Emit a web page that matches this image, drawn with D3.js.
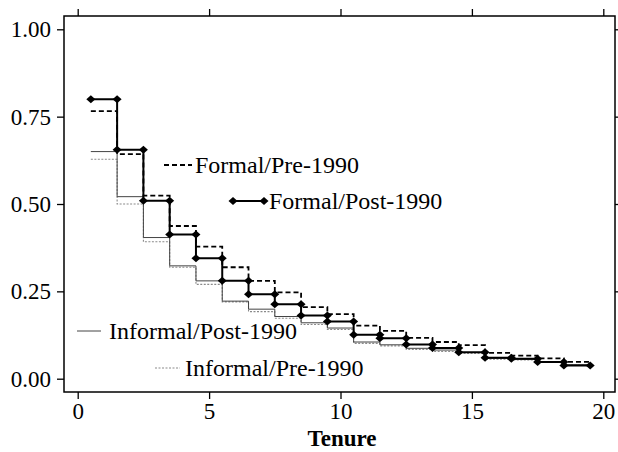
<!DOCTYPE html>
<html>
<head>
<meta charset="utf-8">
<script src="https://cdn.jsdelivr.net/npm/d3@7"></script>
<style>
  html, body { margin: 0; padding: 0; background: #fff; }
  svg { display: block; }
  text { font-family: "Liberation Serif", "Times New Roman", serif; fill: #000; }
</style>
</head>
<body>
<svg id="chart" width="618" height="452"></svg>
<script>
// ---- Data ----
const tenure = [1,2,3,4,5,6,7,8,9,10,11,12,13,14,15,16,17,18,19];
const formalPost   = [0.800,0.655,0.509,0.413,0.345,0.280,0.242,0.213,0.181,0.164,0.126,0.116,0.098,0.088,0.076,0.060,0.057,0.048,0.038];
const formalPre    = [0.766,0.643,0.524,0.437,0.378,0.319,0.280,0.247,0.205,0.185,0.152,0.137,0.117,0.105,0.096,0.074,0.066,0.058,0.048];
const informalPost = [0.650,0.521,0.404,0.323,0.280,0.222,0.199,0.178,0.160,0.145,0.105,0.097,0.087,0.082,0.075,0.058,0.055,0.049,0.040];
const informalPre  = [0.628,0.500,0.392,0.319,0.270,0.220,0.192,0.173,0.155,0.141,0.101,0.094,0.084,0.078,0.072,0.056,0.054,0.047,0.039];
const xTicks = [0,5,10,15,20];
const yTicks = [0,0.25,0.5,0.75,1];
const xLabel = "Tenure";
const legendLabels = ["Formal/Pre-1990","Formal/Post-1990","Informal/Post-1990","Informal/Pre-1990"];

// ---- Layout ----
const svg = d3.select("#chart");
const frame = {left: 64, right: 615, top: 16, bottom: 392};
const x = d3.scaleLinear().domain([0,20]).range([77.7, 603.3]);
const y = d3.scaleLinear().domain([0,1]).range([378.7, 29.3]);
const FS = 23;
const LFS = 24;

// step points: segment from t-0.5 to t+0.5 at value v
function stepPts(vals) {
  const pts = tenure.map((t,i) => [t-0.5, vals[i]]);
  pts.push([tenure[tenure.length-1]+0.5, vals[vals.length-1]]);
  return pts;
}
const line = d3.line().x(d => x(d[0])).y(d => y(d[1])).curve(d3.curveStepAfter);

const series = [
  {vals: informalPre,  stroke: "#8a8a8a", width: 1.1, dash: "2,1.5"},
  {vals: informalPost, stroke: "#444",    width: 1.0, dash: null},
  {vals: formalPre,    stroke: "#000",    width: 1.8, dash: "5,3"},
  {vals: formalPost,   stroke: "#000",    width: 2.0, dash: null}
];

const g = svg.append("g");
series.forEach(s => {
  g.append("path")
    .attr("d", line(stepPts(s.vals)))
    .attr("fill", "none")
    .attr("stroke", s.stroke)
    .attr("stroke-width", s.width)
    .attr("stroke-dasharray", s.dash);
});

// diamonds for Formal/Post at both ends of each step
const diamond = (cx, cy) => `M${cx-4.5},${cy}L${cx},${cy-4}L${cx+4.5},${cy}L${cx},${cy+4}Z`;
const markerPts = [];
tenure.forEach((t,i) => { markerPts.push([t-0.5, formalPost[i]]); markerPts.push([t+0.5, formalPost[i]]); });
g.selectAll("path.mk").data(markerPts).enter().append("path")
  .attr("class","mk")
  .attr("d", d => diamond(x(d[0]), y(d[1])))
  .attr("fill", "#000");

// ---- Frame ----
svg.append("rect")
  .attr("x", frame.left).attr("y", frame.top)
  .attr("width", frame.right-frame.left).attr("height", frame.bottom-frame.top)
  .attr("fill","none").attr("stroke","#000").attr("stroke-width",1.5);

// ---- Axes ----
function styleAxis(sel) {
  sel.select(".domain").remove();
  sel.selectAll(".tick line").attr("stroke","#000").attr("stroke-width",1.3);
  sel.selectAll(".tick text").attr("font-size", FS).attr("font-family","Liberation Serif");
}
const axL = svg.append("g").attr("transform",`translate(${frame.left},0)`)
  .call(d3.axisLeft(y).tickValues(yTicks).tickFormat(d3.format(".2f")).tickSize(7).tickPadding(6));
styleAxis(axL);
const axR = svg.append("g").attr("transform",`translate(${frame.right},0)`)
  .call(d3.axisRight(y).tickValues(yTicks).tickFormat("").tickSize(7));
styleAxis(axR);
const axB = svg.append("g").attr("transform",`translate(0,${frame.bottom})`)
  .call(d3.axisBottom(x).tickValues(xTicks).tickFormat(d3.format("d")).tickSize(7).tickPadding(4));
styleAxis(axB);
const axT = svg.append("g").attr("transform",`translate(0,${frame.top})`)
  .call(d3.axisTop(x).tickValues(xTicks).tickFormat("").tickSize(7));
styleAxis(axT);

svg.append("text").attr("x", 342).attr("y", 446)
  .attr("text-anchor","middle").attr("font-size", FS).attr("font-weight","bold")
  .text(xLabel);

// ---- Legends (placed inside plot) ----
const leg = [
  {label: legendLabels[0], x0: 164, x1: 192, ly: 165, tx: 195, stroke:"#000", width:1.8, dash:"5,3", mk:false},
  {label: legendLabels[1], x0: 233, x1: 264, ly: 201, tx: 269, stroke:"#000", width:2.0, dash:null, mk:true},
  {label: legendLabels[2], x0: 77,  x1: 101, ly: 331, tx: 109, stroke:"#444", width:1.0, dash:null, mk:false},
  {label: legendLabels[3], x0: 155, x1: 180, ly: 368, tx: 185, stroke:"#8a8a8a", width:1.1, dash:"2,1.5", mk:false}
];
leg.forEach(l => {
  svg.append("line").attr("x1",l.x0).attr("x2",l.x1).attr("y1",l.ly).attr("y2",l.ly)
    .attr("stroke",l.stroke).attr("stroke-width",l.width).attr("stroke-dasharray",l.dash);
  if (l.mk) {
    svg.append("path").attr("d", diamond(l.x0, l.ly)).attr("fill","#000");
    svg.append("path").attr("d", diamond(l.x1, l.ly)).attr("fill","#000");
  }
  svg.append("text").attr("x", l.tx).attr("y", l.ly + 8).attr("font-size", LFS).text(l.label);
});
</script>
</body>
</html>
